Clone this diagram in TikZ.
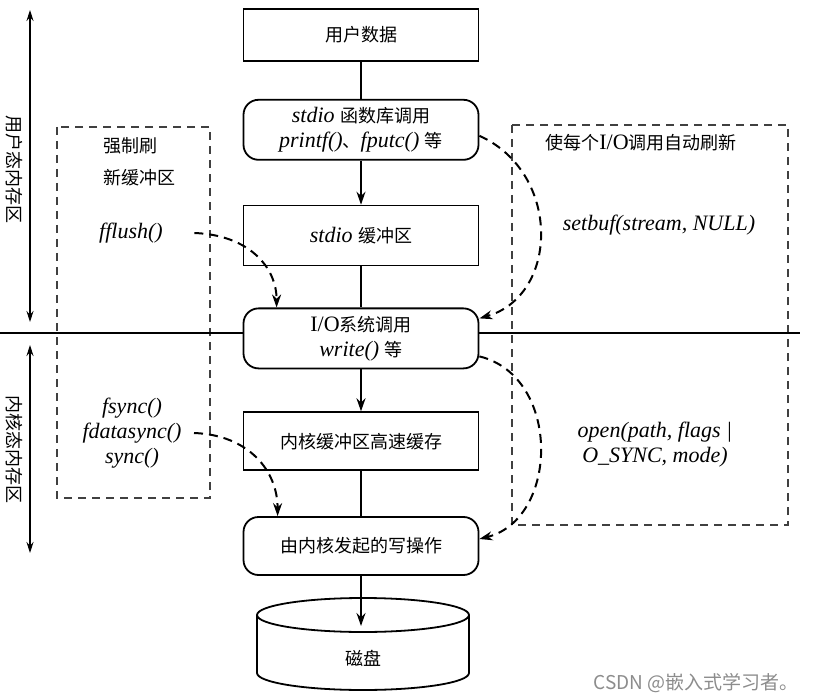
\documentclass[tikz,border=0pt]{standalone}
\usepackage{fontspec}
\setmainfont{Liberation Serif}
\newfontfamily\cjkfont{Noto Sans CJK SC}
\usetikzlibrary{positioning,arrows.meta}
\newcommand{\zh}[1]{{\cjkfont\fontsize{18pt}{25pt}\selectfont #1}}
\tikzset{>={Stealth[length=13pt,width=9pt]}, % arrow heads of the flow
every node/.style={font=\fontsize{22pt}{25pt}\selectfont}, % size of all the texts
box/.style={draw, line width=1.8pt, fill=white, minimum width=235pt, minimum height=60pt, align=center}, % square steps
rbox/.style={box, rounded corners=15pt}, % rounded steps
note/.style={font=\fontsize{22pt}{25pt}\selectfont\itshape, align=center}, % function names
dashbox/.style={draw=black!75, line width=1.1pt, dash pattern=on 8pt off 6pt}, % the two frames
flow/.style={->, line width=1.8pt},
hint/.style={->, line width=2pt, dash pattern=on 9pt off 6pt},
side/.style={{Stealth[length=11pt,width=7pt]}-{Stealth[length=11pt,width=7pt]}, line width=1.1pt},
}

\begin{document}
\begin{tikzpicture}[x=1pt,y=-1pt]
\useasboundingbox (0,0) rectangle (813,700);

% frames
\draw[dashbox] (57,127) rectangle (210,498);
\draw[dashbox] (512,125) rectangle (788,525);

% user space / kernel space
\coordinate (hl) at (0,333);
\coordinate (hr) at (800,333);
\draw[line width=2.6pt] (hl) -- (hr);

\coordinate (ut) at (30,10);
\coordinate (ub) at (30,322);
\coordinate (kt) at (30,345);
\coordinate (kb) at (30,553);
\draw[side] (ut) -- (ub);
\draw[side] (kt) -- (kb);
\node[rotate=-90] (ulab) at (14,170) {\zh{用户态内存区}};
\node[rotate=-90] (klab) at (14,449) {\zh{内核态内存区}};

% main column
\node[box, minimum height=52pt] (data) at (361,35) {\zh{用户数据}};
\node[rbox, below=37pt of data] (lib) {\textit{stdio} \zh{函数库调用}\\\textit{printf()}\zh{、}\textit{fputc()} \zh{等}};
\node[box, below=44pt of lib] (buf) {\textit{stdio} \zh{缓冲区}};
\node[rbox, below=41pt of buf] (sys) {I/O\zh{系统调用}\\\textit{write()} \zh{等}};
\node[box, minimum height=58pt, below=42pt of sys] (kbuf) {\zh{内核缓冲区高速缓存}};
\node[rbox, minimum height=58pt, below=45pt of kbuf] (wr) {\zh{由内核发起的写操作}};

% disk
\draw[line width=1.8pt, fill=white] (257,615) -- (257,673) arc[start angle=180, end angle=360, x radius=106pt, y radius=17pt] -- (469,615);
\draw[line width=1.8pt] (363,615) ellipse [x radius=106pt, y radius=17pt];
\node (disk) at (363,658) {\zh{磁盘}};
\coordinate (dtop) at (361,626);

\draw[line width=1.8pt] (data) -- (lib);
\draw[flow] (lib) -- (buf);
\draw[line width=1.8pt] (buf) -- (sys);
\draw[flow] (sys) -- (kbuf);
\draw[line width=1.8pt] (kbuf) -- (wr);
\draw[flow] (wr) -- (dtop);

% left frame
\node[anchor=west, align=left] (force) at (100,162) {\zh{强制刷}\\[7pt]\zh{新缓冲区}};
\node[note] (ffl) at (131,233) {fflush()};
\node[note] (fsy) at (132,433) {fsync()\\fdatasync()\\sync()};

% right frame
\node (auto) at (641,143) {\zh{使每个}I/O\zh{调用自动刷新}};
\node[note] (sbuf) at (659,225) {setbuf(stream, NULL)};
\node[note] (opn) at (655,445) {open(path, flags |\\O\_SYNC, mode)};

% dashed arrows
\draw[hint] ([xshift=28pt]ffl.east) .. controls +(55,2) and +(0,-40) .. ([xshift=34pt]sys.north west);
\draw[hint] ([xshift=9pt]fsy.east) .. controls +(55,2) and +(0,-45) .. ([xshift=35pt]wr.north west);
\draw[hint] ([yshift=-6pt]lib.east) .. controls +(82,37) and +(80,-23) .. ([yshift=20pt]sys.east);
\draw[hint] ([yshift=-18pt]sys.east) .. controls +(82,20) and +(80,-20) .. ([yshift=7pt]wr.east);

\node[anchor=east, text=black!45, font=\cjkfont\fontsize{19pt}{22pt}\selectfont] (mark) at (802,683) {CSDN @嵌入式学习者。};
\end{tikzpicture}
\end{document}
